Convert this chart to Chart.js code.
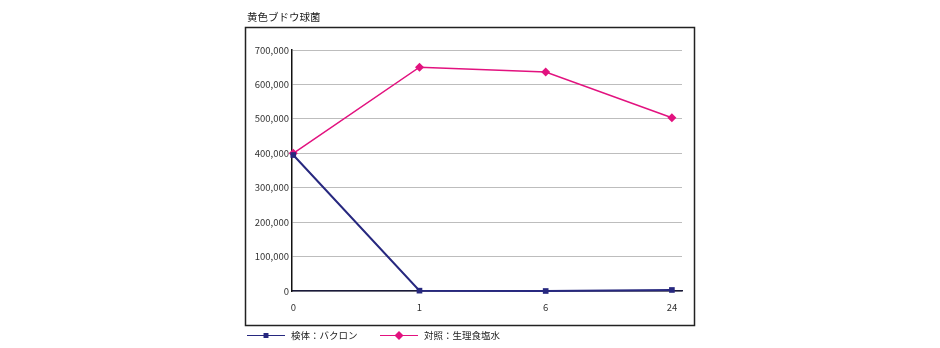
<!DOCTYPE html>
<html>
<head>
<meta charset="utf-8">
<script src="https://cdn.jsdelivr.net/npm/chart.js@4"></script>
<style>
  html, body { margin: 0; padding: 0; background: #fff; }
  canvas { display: block; }
</style>
</head>
<body>
<canvas id="chart" width="940" height="348"></canvas>
<script>
// 黄色ブドウ球菌 - 時間ごとの菌数
const chartTitle = '黄色ブドウ球菌';
const timeLabels = ['0', '1', '6', '24'];
const seriesNames = ['検体：バクロン', '対照：生理食塩水'];
const sampleValues = [395000, 1000, 0, 3000];
const controlValues = [400000, 650000, 636000, 503000];
const yTicks = [0, 100000, 200000, 300000, 400000, 500000, 600000, 700000];

const FONT = '"Noto Sans CJK JP", "Noto Sans", sans-serif';
const BLUE = '#27287f';
const PINK = '#e2127f';

function toPoints(values) {
    return values.map((v, i) => ({ x: i, y: v }));
}

// 枠・タイトル・凡例を描く
const framePlugin = {
    id: 'frame',
    afterDraw(chart) {
        const ctx = chart.ctx;
        ctx.save();
        ctx.strokeStyle = '#222';
        ctx.lineWidth = 1.5;
        ctx.strokeRect(245.5, 27.5, 449, 298);

        ctx.fillStyle = '#222';
        ctx.font = '10.5px ' + FONT;
        ctx.textBaseline = 'alphabetic';
        ctx.fillText(chartTitle, 247, 21);

        const items = [
            { x: 247, color: BLUE, style: 'rect' },
            { x: 380, color: PINK, style: 'rectRot' }
        ];
        items.forEach((it, i) => {
            const y = 335.5;
            ctx.strokeStyle = it.color;
            ctx.lineWidth = 1;
            ctx.beginPath();
            ctx.moveTo(it.x, y);
            ctx.lineTo(it.x + 38, y);
            ctx.stroke();
            ctx.fillStyle = it.color;
            Chart.helpers.drawPoint(ctx, {
                pointStyle: it.style,
                radius: it.style === 'rect' ? 3.5 : 4.5,
                rotation: 0,
                borderWidth: 0
            }, it.x + 19, y);
            ctx.fillStyle = '#222';
            ctx.font = '9.5px ' + FONT;
            ctx.textBaseline = 'middle';
            ctx.fillText(seriesNames[i], it.x + 44, y);
        });
        ctx.restore();
    }
};

new Chart(document.getElementById('chart'), {
    type: 'line',
    data: {
        datasets: [
            {
                label: seriesNames[0],
                data: toPoints(sampleValues),
                borderColor: BLUE,
                backgroundColor: BLUE,
                borderWidth: 2,
                pointStyle: 'rect',
                pointRadius: 4,
                pointBorderWidth: 0,
                clip: false
            },
            {
                label: seriesNames[1],
                data: toPoints(controlValues),
                borderColor: PINK,
                backgroundColor: PINK,
                borderWidth: 1.5,
                pointStyle: 'rectRot',
                pointRadius: 4.5,
                pointBorderWidth: 0,
                clip: false
            }
        ]
    },
    options: {
        responsive: false,
        animation: false,
        layout: { padding: { left: 245, right: 258, top: 50, bottom: 22 } },
        plugins: {
            legend: { display: false },
            tooltip: { enabled: false }
        },
        scales: {
            x: {
                type: 'linear',
                min: -0.01,
                max: 3.08,
                afterBuildTicks(scale) {
                    scale.ticks = timeLabels.map((_, i) => ({ value: i }));
                },
                afterFit(scale) { scale.height = 35; },
                grid: { display: false },
                border: { color: '#1a1a3a', width: 1.5 },
                ticks: {
                    callback: (v) => timeLabels[v],
                    color: '#333',
                    padding: 3,
                    maxRotation: 0,
                    font: { family: FONT, size: 9.5 }
                }
            },
            y: {
                min: 0,
                max: 700000,
                afterBuildTicks(scale) {
                    scale.ticks = yTicks.map(v => ({ value: v }));
                },
                afterFit(scale) { scale.width = 47; },
                grid: { color: '#bdbdbd', lineWidth: 1, drawTicks: false },
                border: { color: '#111', width: 1.5 },
                ticks: {
                    callback: (v) => v.toLocaleString('en-US'),
                    color: '#333',
                    padding: 3,
                    font: { family: FONT, size: 9.5 }
                }
            }
        }
    },
    plugins: [framePlugin]
});
</script>
</body>
</html>
